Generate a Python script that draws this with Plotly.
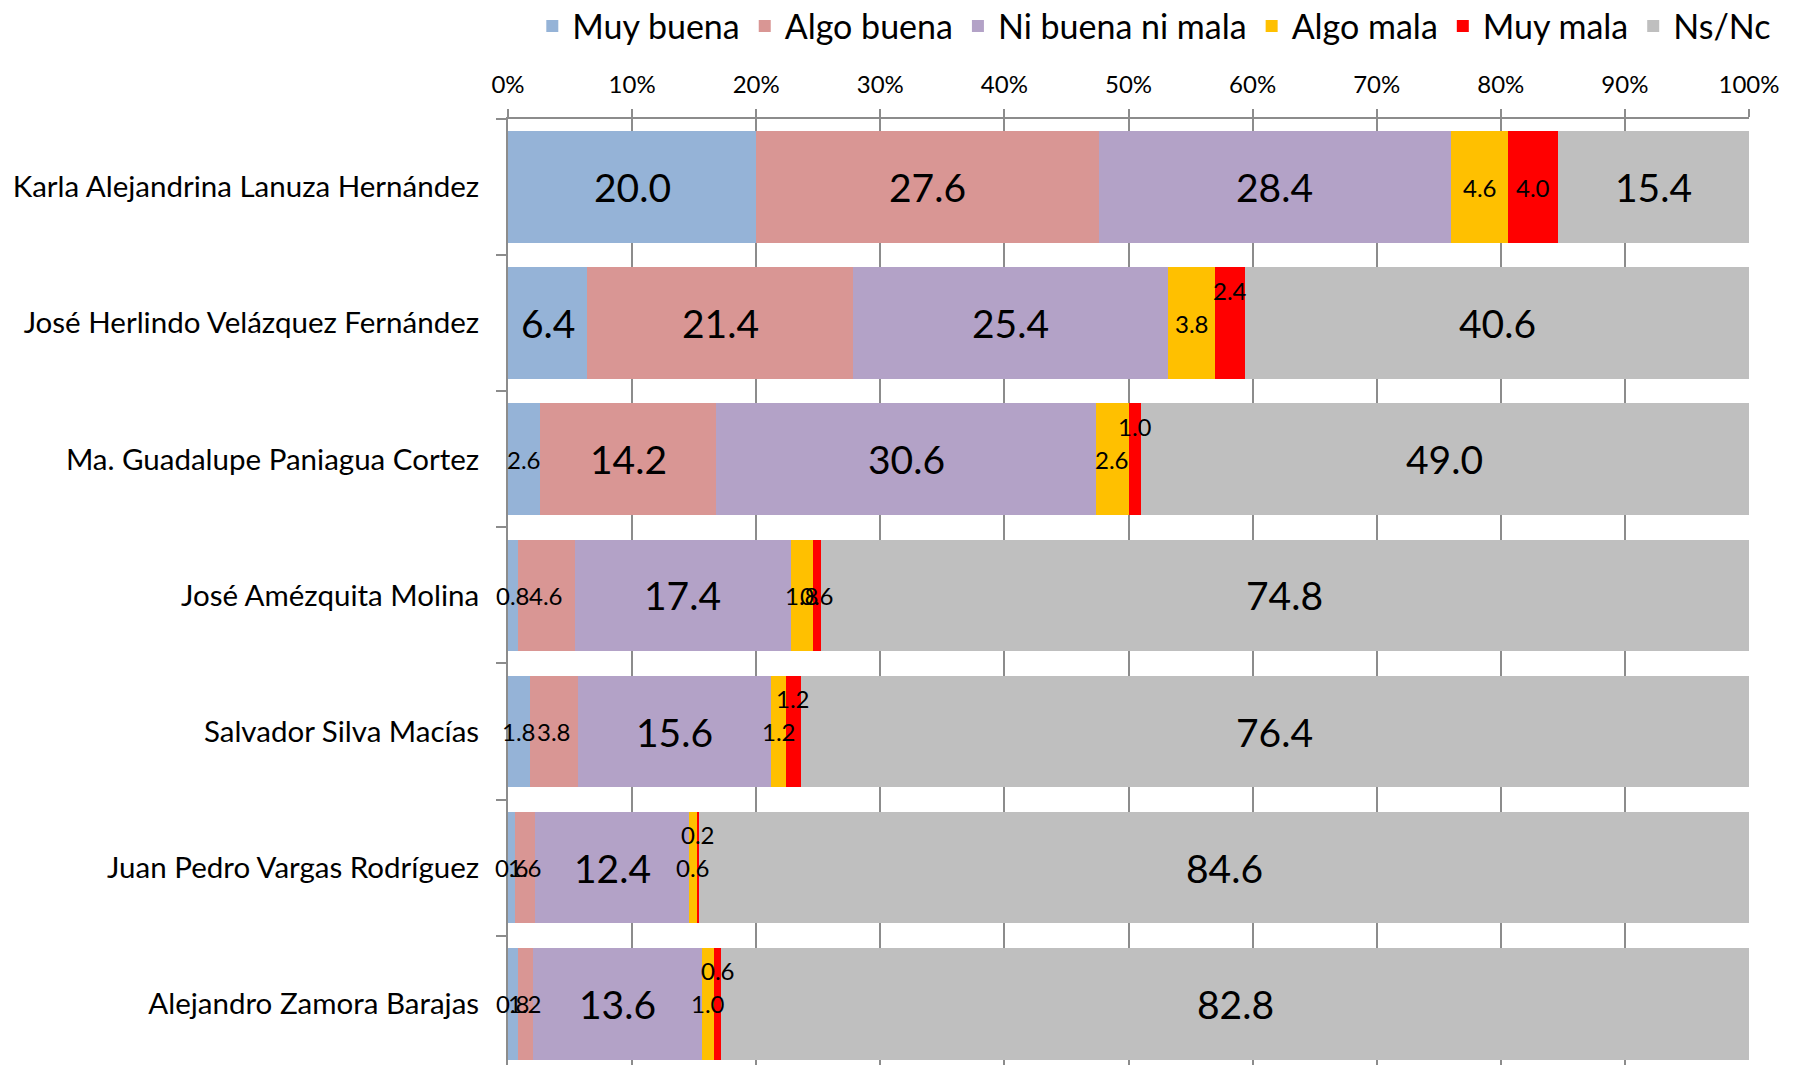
import plotly.graph_objects as go

categories = [
    "Karla Alejandrina Lanuza Hernández",
    "José Herlindo Velázquez Fernández",
    "Ma. Guadalupe Paniagua Cortez",
    "José Amézquita Molina",
    "Salvador Silva Macías",
    "Juan Pedro Vargas Rodríguez",
    "Alejandro Zamora Barajas",
]
series_names = ["Muy buena", "Algo buena", "Ni buena ni mala", "Algo mala", "Muy mala", "Ns/Nc"]
muy_buena = [20.0, 6.4, 2.6, 0.8, 1.8, 0.6, 0.8]
algo_buena = [27.6, 21.4, 14.2, 4.6, 3.8, 1.6, 1.2]
ni_buena_ni_mala = [28.4, 25.4, 30.6, 17.4, 15.6, 12.4, 13.6]
algo_mala = [4.6, 3.8, 2.6, 1.8, 1.2, 0.6, 1.0]
muy_mala = [4.0, 2.4, 1.0, 0.6, 1.2, 0.2, 0.6]
ns_nc = [15.4, 40.6, 49.0, 74.8, 76.4, 84.6, 82.8]
x_tick_vals = [0, 10, 20, 30, 40, 50, 60, 70, 80, 90, 100]

series_values = [muy_buena, algo_buena, ni_buena_ni_mala, algo_mala, muy_mala, ns_nc]
colors = ["#95B3D7", "#D99694", "#B3A2C7", "#FFC000", "#FF0000", "#BFBFBF"]
# which "Muy mala" labels sit raised above the bar centre (label collision placement)
muy_mala_raised = [False, True, True, False, True, True, True]

FONT = "Lato, 'Open Sans', sans-serif"

fig = go.Figure()
for name, vals, col in zip(series_names, series_values, colors):
    fig.add_trace(go.Bar(
        name=name, y=categories, x=vals, orientation="h",
        marker=dict(color=col, line=dict(width=0)),
        hoverinfo="x+y+name",
    ))

annotations = []
for j, cat in enumerate(categories):
    start = 0.0
    for i, vals in enumerate(series_values):
        v = vals[j]
        big = v >= 5
        shift = 33 if (i == 4 and muy_mala_raised[j]) else 0
        annotations.append(dict(
            x=start + v / 2, y=cat, xref="x", yref="y",
            text=f"{v:.1f}", showarrow=False,
            font=dict(family=FONT, size=39 if big else 24, color="black"),
            yshift=shift, xanchor="center", yanchor="middle",
        ))
        start += v

fig.update_layout(
    width=1788, height=1057,
    margin=dict(l=500, r=47, t=111, b=0, autoexpand=False),
    barmode="stack", bargap=0.18,
    plot_bgcolor="white", paper_bgcolor="white",
    font=dict(family=FONT, color="black"),
    showlegend=True,
    legend=dict(
        orientation="h", x=1.022, xanchor="right", y=1.098, yanchor="middle",
        xref="paper", yref="paper",
        font=dict(family=FONT, size=34, color="black"),
        traceorder="normal", itemwidth=30,
    ),
    annotations=annotations,
    xaxis=dict(
        side="top", range=[0, 100], tickvals=x_tick_vals,
        ticktext=[f"{v}%" for v in x_tick_vals],
        showgrid=True, gridcolor="#8C8C8C", gridwidth=2,
        showline=True, linecolor="#8C8C8C", linewidth=2,
        ticks="outside", ticklen=8, tickwidth=2, tickcolor="#8C8C8C",
        tickfont=dict(family=FONT, size=24, color="black"),
        zeroline=False, ticklabelstandoff=6,
    ),
    yaxis=dict(
        type="category", categoryorder="array", categoryarray=categories,
        range=[6.45, -0.5],
        tickson="boundaries", ticks="outside", ticklen=10, tickwidth=2,
        tickcolor="#8C8C8C", showline=True, linecolor="#8C8C8C", linewidth=2,
        showgrid=False,
        tickfont=dict(family=FONT, size=29.5, color="black"),
        ticklabelstandoff=21,
    ),
)

fig.write_html("out.html")
